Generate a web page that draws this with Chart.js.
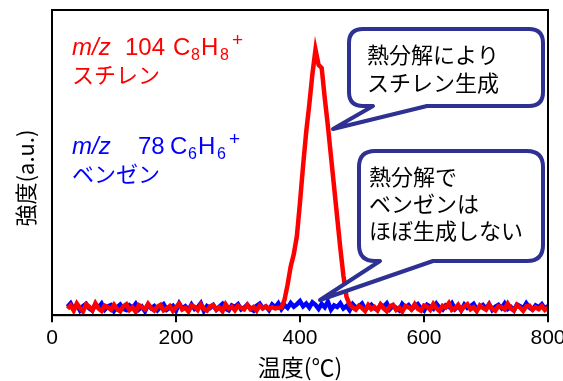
<!DOCTYPE html>
<html>
<head>
<meta charset="utf-8">
<script src="https://cdn.jsdelivr.net/npm/chart.js@4/dist/chart.umd.min.js"></script>
<style>
  body { margin: 0; background: #fff; }
  #wrap { width: 563px; height: 381px; position: relative; }
</style>
</head>
<body>
<div id="wrap"><canvas id="c"></canvas></div>
<script>
// 温度軸 (25℃から5℃刻み)
const tempStart = 25;
const tempStep = 5;
const xTicks = [0, 200, 400, 600, 800];

// m/z 104 スチレン
const styreneBase = [2.1,3.2,1.5,3.8,2.4,1.2,3.5,2.8,1.6,3.9,
  2.2,1.4,3.1,2.6,1.8,3.4,2.0,1.3,2.9,3.6,
  1.7,2.5,1.1,3.3,2.7,1.9,3.7,2.3,1.5,2.8,
  3.4,1.6,2.2,3.0,1.4,2.6,3.8,1.9,2.4,1.2,
  3.2,2.7,1.7,3.5,2.1,1.5,2.9,3.3,1.8,2.5,
  1.3,3.6,2.2,2.8,1.6,3.1,2.4,1.9,3.4,2.0,
  2.7,1.5,3.2,2.3,2.9,2.1,2.6,2.2,2.4];
const styrenePeak = [2.5,5,10,16,20,26,37,49,60,69,79,87,82,81,71,62,52,42,32,22,13,6,3.5,2.5];
const styreneTail = [1.8,3.1,2.4,1.4,3.3,2.0,2.7,1.6,3.5,2.2,
  1.3,2.9,3.4,1.7,2.5,1.2,3.0,2.6,1.9,3.6,
  2.1,1.5,3.2,2.8,1.8,3.7,2.3,1.4,3.1,2.5,
  3.9,1.7,2.2,3.4,1.6,2.9,3.6,1.9,2.6,1.3,
  3.2,2.4,1.8,3.5,2.1,1.5,3.0,2.7,1.9,3.8,
  2.2,1.6,3.3,2.5,1.4,2.9,3.1,1.8,2.6,2.0,
  3.0,1.7,2.4];
const styrene = [...styreneBase, ...styrenePeak, ...styreneTail];

// m/z 78 ベンゼン
const benzene = [2.8,3.9,2.0,3.4,1.6,3.0,3.7,2.2,1.5,3.6,
  2.5,3.8,1.8,2.9,3.3,1.4,2.6,3.5,2.1,1.7,
  3.2,2.4,3.7,1.9,2.8,1.3,3.4,2.3,3.0,1.6,
  2.7,3.6,1.8,2.5,3.1,1.5,3.8,2.2,2.9,1.7,
  3.5,2.0,2.6,3.9,1.4,3.0,2.4,3.3,1.8,2.8,
  3.7,2.1,1.6,3.2,2.7,3.6,1.9,2.5,3.4,2.2,
  1.5,3.1,3.8,2.3,2.9,1.7,3.5,2.6,3.9,2.0,
  3.3,2.4,4.0,2.8,3.6,4.6,2.9,3.8,2.5,4.2,
  3.4,2.1,3.7,2.6,4.4,1.8,3.2,2.7,3.9,2.2,
  3.0,1.6,3.6,2.5,2.9,3.8,1.9,2.7,3.4,2.3,
  1.7,3.5,2.8,3.9,2.0,3.1,2.4,1.6,3.7,2.6,
  3.3,1.9,2.9,3.6,2.2,1.5,3.4,2.8,2.1,3.8,
  2.5,1.8,3.2,2.7,3.9,2.0,3.0,1.6,3.5,2.4,
  2.9,3.7,1.9,2.6,3.3,2.1,3.6,1.7,2.8,3.4,
  2.3,3.8,2.0,2.7,1.6,3.5,3.0,2.2,3.9,2.5,
  1.8,3.2,2.6,3.6,2.1,3.0];

const toPts = arr => arr.map((v, i) => ({ x: tempStart + i * tempStep, y: v }));

const JP = "'Noto Sans CJK JP', sans-serif";
const LAT = "Arial, 'Liberation Sans', sans-serif";
const NAVY = 'rgb(46,49,146)';

// 吹き出し
function bubble(ctx, x1, y1, x2, y2, r, tb1, tb2, tipX, tipY) {
  ctx.beginPath();
  ctx.moveTo(x1 + r, y1);
  ctx.lineTo(x2 - r, y1);
  ctx.quadraticCurveTo(x2, y1, x2, y1 + r);
  ctx.lineTo(x2, y2 - r);
  ctx.quadraticCurveTo(x2, y2, x2 - r, y2);
  ctx.lineTo(tb2, y2);
  ctx.lineTo(tipX, tipY);
  ctx.lineTo(tb1, y2);
  ctx.lineTo(x1 + r, y2);
  ctx.quadraticCurveTo(x1, y2, x1, y2 - r);
  ctx.lineTo(x1, y1 + r);
  ctx.quadraticCurveTo(x1, y1, x1 + r, y1);
  ctx.closePath();
  ctx.fillStyle = '#fff';
  ctx.fill();
  ctx.lineWidth = 4;
  ctx.strokeStyle = NAVY;
  ctx.lineJoin = 'round';
  ctx.stroke();
}

function formula(ctx, color, y, parts) {
  ctx.fillStyle = color;
  ctx.textBaseline = 'alphabetic';
  ctx.textAlign = 'left';
  for (const p of parts) {
    ctx.font = (p.it ? 'italic ' : '') + p.size + 'px ' + LAT;
    ctx.fillText(p.t, p.x, y + (p.dy || 0));
  }
}

const decor = {
  id: 'decor',
  afterDatasetsDraw(chart) {
    const { ctx, chartArea: a } = chart;
    ctx.save();
    // 枠
    ctx.strokeStyle = '#000';
    ctx.lineWidth = 2;
    ctx.strokeRect(a.left, a.top, a.right - a.left, a.bottom - a.top);

    // 吹き出し
    bubble(ctx, 349, 29, 543, 106, 14, 373, 427, 333, 129);
    bubble(ctx, 359, 151, 543, 261, 16, 380, 433, 320, 300);

    ctx.fillStyle = '#000';
    ctx.font = '22px ' + JP;
    ctx.textBaseline = 'middle';
    ctx.textAlign = 'left';
    ctx.fillText('熱分解により', 367, 55);
    ctx.fillText('スチレン生成', 367, 83);
    ctx.fillText('熱分解で', 369, 177);
    ctx.fillText('ベンゼンは', 369, 204);
    ctx.fillText('ほぼ生成しない', 369, 231);

    // 系列ラベル
    formula(ctx, '#ff0000', 55, [
      { t: 'm/z', x: 72, size: 24, it: true },
      { t: '104', x: 125, size: 24 },
      { t: 'C', x: 173, size: 24 },
      { t: '8', x: 191, size: 16, dy: 5 },
      { t: 'H', x: 201, size: 24 },
      { t: '8', x: 220, size: 16, dy: 5 },
      { t: '+', x: 232, size: 19, dy: -9 }
    ]);
    ctx.font = '22px ' + JP;
    ctx.textBaseline = 'middle';
    ctx.fillText('スチレン', 72, 75);

    formula(ctx, '#0000ff', 154, [
      { t: 'm/z', x: 72, size: 24, it: true },
      { t: '78', x: 138, size: 24 },
      { t: 'C', x: 170, size: 24 },
      { t: '6', x: 188, size: 16, dy: 5 },
      { t: 'H', x: 198, size: 24 },
      { t: '6', x: 217, size: 16, dy: 5 },
      { t: '+', x: 229, size: 19, dy: -9 }
    ]);
    ctx.font = '22px ' + JP;
    ctx.textBaseline = 'middle';
    ctx.fillText('ベンゼン', 72, 174);

    // 縦軸タイトル
    ctx.translate(26, 178);
    ctx.rotate(-Math.PI / 2);
    ctx.fillStyle = '#000';
    ctx.textAlign = 'center';
    ctx.font = '22px ' + JP;
    ctx.fillText('強度(a.u.)', 0, 0);
    ctx.restore();
  }
};

new Chart(document.getElementById('c'), {
  type: 'line',
  data: {
    datasets: [
      { label: 'm/z 104', data: toPts(styrene), borderColor: '#ff0000', borderWidth: 4.5 },
      { label: 'm/z 78', data: toPts(benzene), borderColor: '#0000ff', borderWidth: 4.5 }
    ]
  },
  options: {
    responsive: true,
    maintainAspectRatio: false,
    animation: false,
    layout: { padding: { left: 52, right: 15, top: 10, bottom: 0 } },
    elements: { point: { radius: 0 }, line: { tension: 0 } },
    plugins: { legend: { display: false }, tooltip: { enabled: false } },
    scales: {
      x: {
        type: 'linear',
        min: 0,
        max: 800,
        afterBuildTicks: s => { s.ticks = xTicks.map(v => ({ value: v })); },
        afterFit: s => { s.paddingLeft = 0; s.paddingRight = 0; },
        border: { display: true, color: '#000', width: 2 },
        grid: { drawOnChartArea: false, drawTicks: true, tickLength: 7, color: '#000', lineWidth: 2 },
        ticks: { color: '#000', font: { size: 21, family: LAT }, padding: 3, maxRotation: 0 },
        title: { display: true, text: '温度(℃)', color: '#000', font: { size: 23, family: JP }, padding: { top: 0, bottom: 0 } }
      },
      y: { display: false, min: 0, max: 100 }
    }
  },
  plugins: [decor]
});
</script>
</body>
</html>
